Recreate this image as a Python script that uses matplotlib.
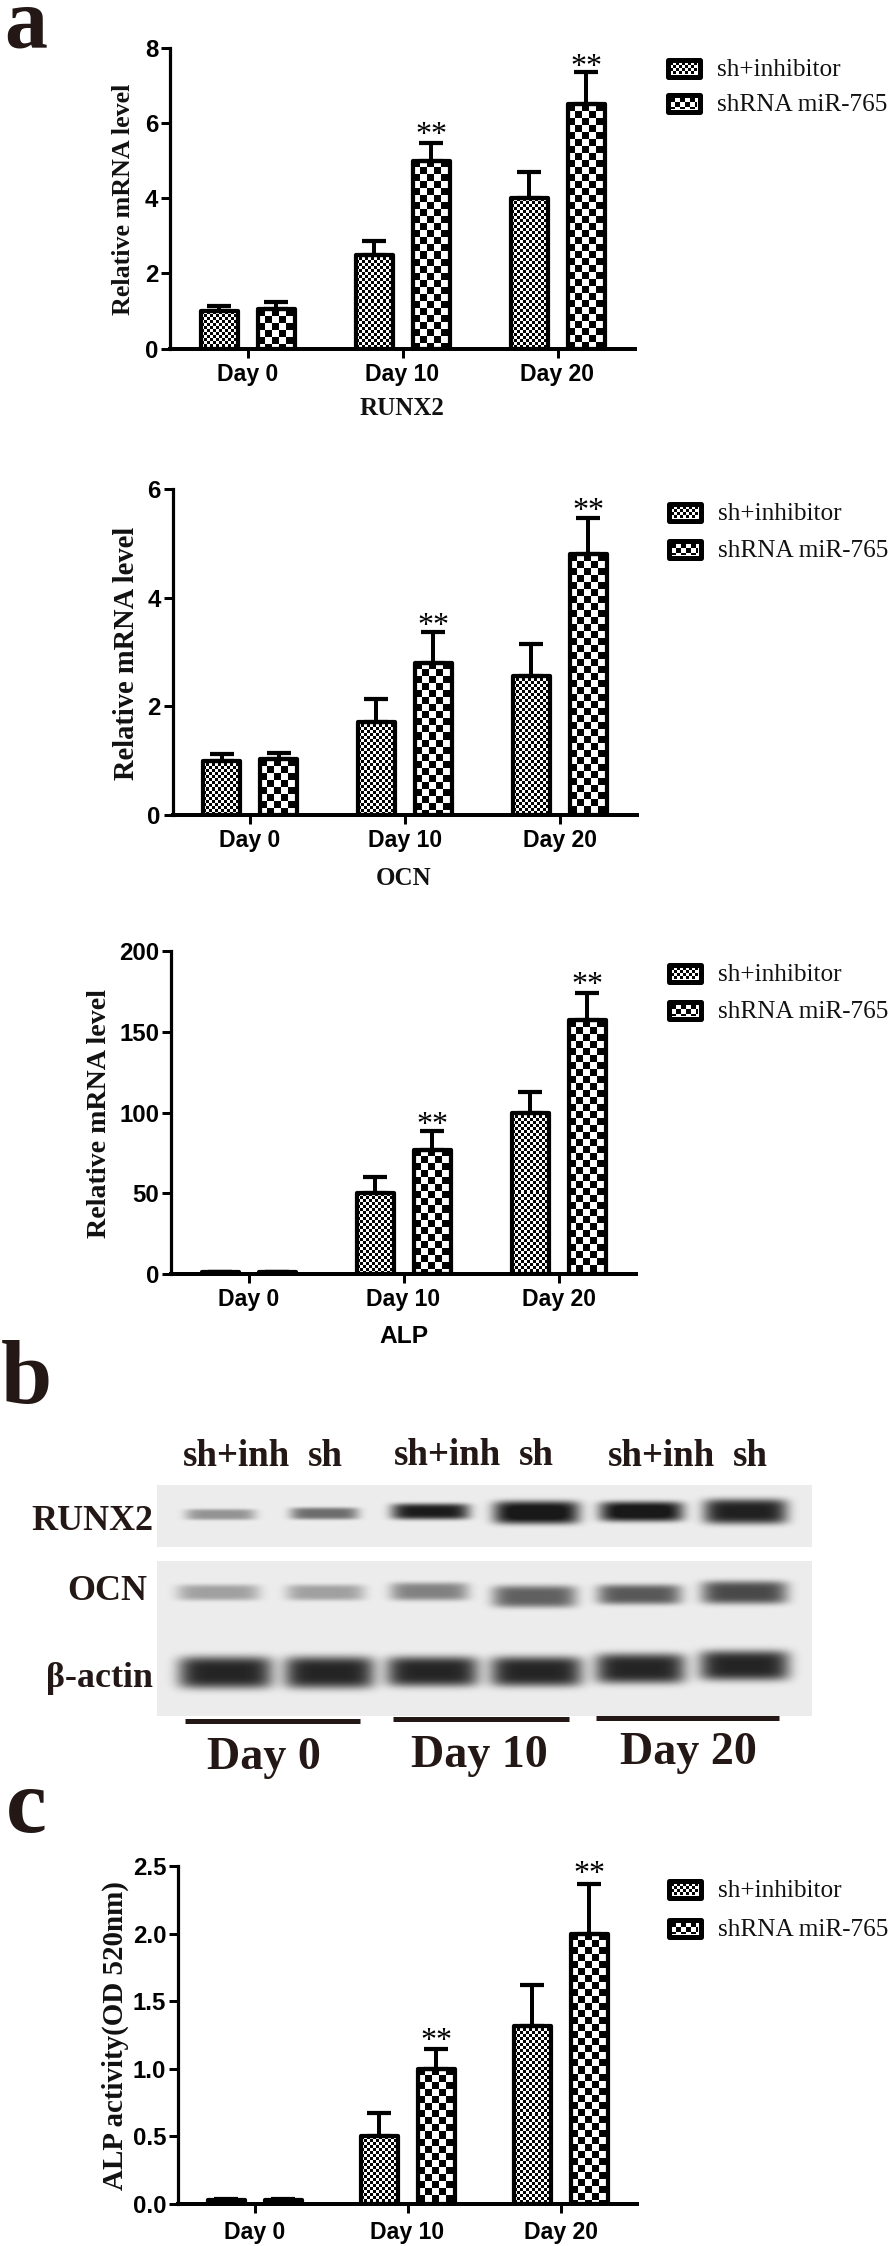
"""Relative mRNA level, western blot and ALP activity panels (a, b, c)."""

import numpy as np
import matplotlib
matplotlib.use("Agg")
import matplotlib.pyplot as plt
from matplotlib.patches import Rectangle

W, H = 894, 2246
PX = 0.72  # points per pixel at dpi 100
SANS = "Liberation Sans"
SERIF = "Liberation Serif"
INK = "#231815"

DAYS = ["Day 0", "Day 10", "Day 20"]
SERIES = ["sh+inhibitor", "shRNA miR-765"]

RUNX2_INH = [1.0, 2.5, 4.0]
RUNX2_SH = [1.05, 5.0, 6.5]
RUNX2_INH_TOP = [1.13, 2.87, 4.69]
RUNX2_SH_TOP = [1.25, 5.47, 7.36]

OCN_INH = [1.0, 1.72, 2.56]
OCN_SH = [1.03, 2.8, 4.8]
OCN_INH_TOP = [1.12, 2.13, 3.14]
OCN_SH_TOP = [1.15, 3.37, 5.47]

ALP_INH = [1, 50, 100]
ALP_SH = [1, 77, 157]
ALP_INH_TOP = [1.5, 60, 113]
ALP_SH_TOP = [1.5, 88.7, 174]

ACT_INH = [0.03, 0.5, 1.32]
ACT_SH = [0.03, 1.0, 2.0]
ACT_INH_TOP = [0.035, 0.67, 1.62]
ACT_SH_TOP = [0.035, 1.15, 2.37]

# western blot, one row per protein: lane centre, width, band centre, band height, darkness
BLOT_CX = [
    [220, 324, 430, 536, 641, 745],
    [218, 325, 429, 534, 639, 744],
    [225, 329, 432, 536, 640, 744],
]
BLOT_W = [
    [70, 68, 78, 86, 84, 84],
    [82, 78, 78, 84, 84, 86],
    [94, 90, 92, 92, 90, 90],
]
BLOT_Y = [
    [1514, 1513, 1511, 1512, 1511, 1511],
    [1592, 1592, 1591, 1596, 1594, 1592],
    [1672, 1672, 1671, 1671, 1668, 1665],
]
BLOT_H = [
    [6, 7, 11, 18, 15, 20],
    [11, 11, 13, 17, 15, 18],
    [27, 27, 25, 25, 25, 25],
]
BLOT_DARK = [
    [0.35, 0.5, 0.82, 0.88, 0.88, 0.8],
    [0.3, 0.3, 0.42, 0.55, 0.58, 0.64],
    [0.78, 0.78, 0.78, 0.78, 0.78, 0.78],
]

fig = plt.figure(figsize=(W / 100, H / 100), dpi=100, facecolor="white")


def px_axes(left, top, right, bottom):
    return fig.add_axes([left / W, 1 - bottom / H, (right - left) / W, (bottom - top) / H])


def checker(ax, x0, x1, y0, y1, cell, zorder=2):
    # pixel aligned checker pattern filling a data rectangle
    p0 = ax.transData.transform((x0, y0))
    p1 = ax.transData.transform((x1, y1))
    nx = max(int(round(abs(p1[0] - p0[0]))), 1)
    ny = max(int(round(abs(p1[1] - p0[1]))), 1)
    yy, xx = np.indices((ny, nx))
    img = ((xx // cell + yy // cell) % 2).astype(float)
    xlim, ylim = ax.get_xlim(), ax.get_ylim()
    ax.imshow(img, extent=(x0, x1, y0, y1), cmap="gray", vmin=0, vmax=1, aspect="auto",
              interpolation="nearest", zorder=zorder)
    ax.set_xlim(xlim)
    ax.set_ylim(ylim)


overlay = fig.add_axes([0, 0, 1, 1], zorder=5)
overlay.set_xlim(0, W)
overlay.set_ylim(H, 0)
overlay.axis("off")


def bar_panel(rect, ymax, yticks, ticklabels, inh, sh, inh_top, sh_top, ylabel, ylabel_xy,
              ylabel_size, star_gaps, pad_x=3.5):
    ax = px_axes(*rect)
    ax.set_xlim(-0.5, 2.5)
    ax.set_ylim(0, ymax)
    ax.patch.set_alpha(0)
    for s in ("top", "right"):
        ax.spines[s].set_visible(False)
    ax.spines["left"].set_linewidth(3.2 * PX)
    ax.spines["bottom"].set_linewidth(4 * PX)
    x = np.arange(3)
    ppx = (rect[2] - rect[0]) / 3
    off, bw = 28.5 / ppx, 37 / ppx
    stroke = 4.2 * PX
    inner = 0.5 * bw
    for xs, vals, tops, cell in ((x - off, inh, inh_top, 3), (x + off, sh, sh_top, 7)):
        for xc, v, t in zip(xs, vals, tops):
            checker(ax, xc - inner, xc + inner, 0, v, cell)
            ax.bar(xc, v, bw, facecolor="none", edgecolor="black", linewidth=stroke,
                   joinstyle="round", zorder=3)
            ax.errorbar(xc, v, yerr=[[0], [t - v]], color="black", elinewidth=4 * PX,
                        capsize=12 * PX, capthick=4.2 * PX, zorder=3)
    # stars over the sh bars of day 10 and day 20
    for i, gap in zip((1, 2), star_gaps):
        ax.annotate("**", (x[i] + off, sh_top[i]), xytext=(0, (gap - 14.6) * PX),
                    textcoords="offset points", ha="center", va="baseline",
                    fontfamily=SERIF, fontsize=32 * PX, color="black", zorder=4)
    ax.set_xticks(x)
    ax.set_xticklabels(DAYS, fontfamily=SANS, fontweight="bold", fontsize=23 * PX)
    ax.set_yticks(yticks)
    ax.set_yticklabels(ticklabels, fontfamily=SANS, fontweight="bold", fontsize=24 * PX)
    ax.tick_params(axis="x", length=9 * PX, width=3 * PX, pad=pad_x)
    ax.tick_params(axis="y", length=9 * PX, width=3 * PX, pad=2)
    overlay.text(ylabel_xy[0], ylabel_xy[1], ylabel, rotation=90, ha="center", va="center",
                 fontfamily=SERIF, fontweight="bold", fontsize=ylabel_size * PX, color="#111111")
    return ax


def legend_block(x0, x1, tops, text_x):
    for top, name, cell in zip(tops, SERIES, (3, 5)):
        bot = top + 22
        checker(overlay, x0 + 5, x1 - 5, bot - 5, top + 5, cell, zorder=1)
        overlay.add_patch(Rectangle((x0 + 2.5, top + 2.5), x1 - x0 - 5, 17, facecolor="none",
                                    edgecolor="black", linewidth=5 * PX, joinstyle="round",
                                    zorder=2))
        overlay.text(text_x, top + 19, name, ha="left", va="baseline", fontfamily=SERIF,
                     fontsize=25.3 * PX, color="#111111")


# ------------------------------------------------------------------
# Panel a
# ------------------------------------------------------------------
bar_panel((170, 47.7, 635, 348.7), 8, [0, 2, 4, 6, 8], ["0", "2", "4", "6", "8"],
          RUNX2_INH, RUNX2_SH, RUNX2_INH_TOP, RUNX2_SH_TOP,
          "Relative mRNA level", (124, 199), 26, (14, 11))
bar_panel((172.6, 489, 637, 815), 6, [0, 2, 4, 6], ["0", "2", "4", "6"],
          OCN_INH, OCN_SH, OCN_INH_TOP, OCN_SH_TOP,
          "Relative mRNA level", (127, 653), 28.5, (12, 13))
bar_panel((171, 951, 636, 1274), 200, [0, 50, 100, 150, 200], ["0", "50", "100", "150", "200"],
          ALP_INH, ALP_SH, ALP_INH_TOP, ALP_SH_TOP,
          "Relative mRNA level", (100, 1114), 28, (12, 15))

legend_block(665, 702, (57, 92), 717)
legend_block(666, 703, (501, 538), 718)
legend_block(666, 703, (962, 999), 718)

overlay.text(402, 415, "RUNX2", ha="center", va="baseline", fontfamily=SERIF, fontweight="bold",
             fontsize=25 * PX, color="#111111")
overlay.text(404, 885, "OCN", ha="center", va="baseline", fontfamily=SERIF, fontweight="bold",
             fontsize=25 * PX, color="#111111")
overlay.text(404, 1343, "ALP", ha="center", va="baseline", fontfamily=SANS, fontweight="bold",
             fontsize=24.5 * PX, color="black")

# ------------------------------------------------------------------
# Panel b: blot rebuilt from the band table
# ------------------------------------------------------------------
bx0, bx1, by0, by1 = 157, 812, 1485, 1716
yy, xx = np.mgrid[by0:by1, bx0:bx1]
blot = np.full(xx.shape, 0.925)
blot[(yy >= 1547) & (yy < 1561)] = 1.0
for row in range(3):
    for cx, bw, cy, bh, dark in zip(BLOT_CX[row], BLOT_W[row], BLOT_Y[row], BLOT_H[row],
                                    BLOT_DARK[row]):
        px = np.exp(-(np.abs(xx - cx) / (bw / 2)) ** 6)
        py = np.exp(-(np.abs(yy - cy) / (bh / 2 + 2.5)) ** 4)
        blot -= dark * px * py
blot = np.clip(blot, 0.1, 1)
overlay.imshow(blot, extent=(bx0, bx1, by1, by0), cmap="gray", vmin=0, vmax=1, aspect="auto",
               interpolation="bilinear", zorder=1)
overlay.set_xlim(0, W)
overlay.set_ylim(H, 0)

for x, y, label in ((236, 1466, "sh+inh"), (325, 1466, "sh"), (447, 1465, "sh+inh"),
                    (536, 1465, "sh"), (661, 1466, "sh+inh"), (750, 1466, "sh")):
    overlay.text(x, y, label, ha="center", va="baseline", fontfamily=SERIF, fontweight="bold",
                 fontsize=37 * PX, color=INK)
for x, y, label in ((153, 1530, "RUNX2"), (147, 1600, "OCN"), (153, 1687, "β-actin")):
    overlay.text(x, y, label, ha="right", va="baseline", fontfamily=SERIF, fontweight="bold",
                 fontsize=36 * PX, color=INK)
for x0, x1, y in ((185, 360, 1721), (393, 569, 1719), (596, 779, 1718)):
    overlay.plot([x0, x1], [y, y], color=INK, linewidth=5 * PX, solid_capstyle="butt")
for x, y, label in ((264, 1769, "Day 0"), (479, 1767, "Day 10"), (688, 1764, "Day 20")):
    overlay.text(x, y, label, ha="center", va="baseline", fontfamily=SERIF, fontweight="bold",
                 fontsize=46 * PX, color=INK)

# ------------------------------------------------------------------
# Panel c
# ------------------------------------------------------------------
bar_panel((178, 1866, 637, 2204), 2.5, [0, 0.5, 1, 1.5, 2, 2.5],
          ["0.0", "0.5", "1.0", "1.5", "2.0", "2.5"],
          ACT_INH, ACT_SH, ACT_INH_TOP, ACT_SH_TOP,
          "ALP activity(OD 520nm)", (115, 2036), 29, (14, 16), pad_x=5.5)
legend_block(666, 703, (1878, 1917), 718)

for x, y, size, label in ((26, 47, 86, "a"), (26, 1403, 92, "b"), (26, 1832, 92, "c")):
    overlay.text(x, y, label, ha="center", va="baseline", fontfamily=SERIF, fontweight="bold",
                 fontsize=size * PX, color=INK)

fig.savefig("out.png", dpi=100, facecolor="white")
